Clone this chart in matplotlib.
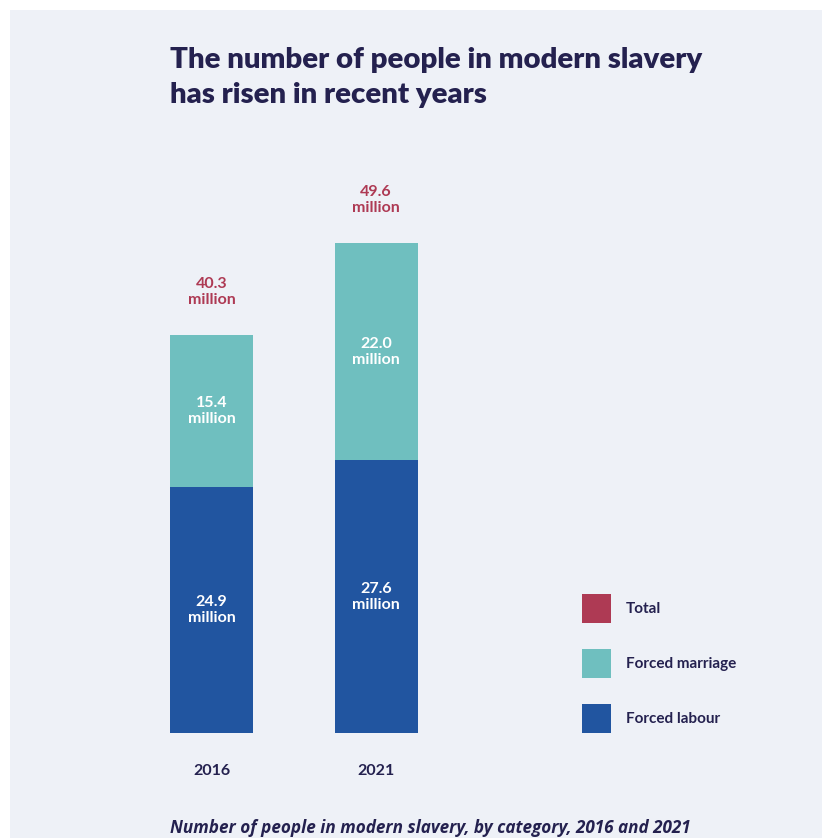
import matplotlib
matplotlib.use('Agg')
import matplotlib.pyplot as plt
from matplotlib.patches import Patch, Rectangle

years = ['2016', '2021']
forced_labour = [24.9, 27.6]
forced_marriage = [15.4, 22.0]
totals = [40.3, 49.6]
legend_labels = ['Total', 'Forced marriage', 'Forced labour']

navy = '#24214f'
c_labour = '#2155a0'
c_marriage = '#6fbfbf'
c_total = '#ae3a54'
bg = '#eef1f7'

fams = ['Lato', 'DejaVu Sans']

W, H = 822, 838
fig = plt.figure(figsize=(W / 100, H / 100), dpi=100, facecolor='white')
fig.patches.append(Rectangle((10 / W, 0), 1, 1 - 10 / H, transform=fig.transFigure,
                             facecolor=bg, edgecolor='none', zorder=-10))

# axes: y=0 at pixel 733, 9.88 px per unit, bar spacing 164.5 px
x0, x1 = -0.6, 3.0
ymax = 60
ax_left = 211.5 - 0.6 * 164.5
ax_w = (x1 - x0) * 164.5
ax_h = ymax * 9.88
ax = fig.add_axes([ax_left / W, (H - 733) / H, ax_w / W, ax_h / H])
ax.set_facecolor('none')
ax.set_xlim(x0, x1)
ax.set_ylim(0, ymax)
for s in ax.spines.values():
    s.set_visible(False)
ax.set_yticks([])

xs = list(range(len(years)))
bw = 83 / 164.5
ax.bar(xs, forced_labour, width=bw, color=c_labour)
ax.bar(xs, forced_marriage, width=bw, bottom=forced_labour, color=c_marriage)

lbl = dict(ha='center', va='center', fontsize=11.5, fontweight='bold', family=fams, linespacing=1.2)
for i in xs:
    ax.text(i, forced_labour[i] / 2, f'{forced_labour[i]:.1f}\nmillion', color='white', **lbl)
    ax.text(i, forced_labour[i] + forced_marriage[i] / 2, f'{forced_marriage[i]:.1f}\nmillion',
            color='white', **lbl)
    ax.annotate(f'{totals[i]:.1f}\nmillion', (i, totals[i]), xytext=(0, 31), textcoords='offset points',
                color=c_total, **lbl)

ax.set_xticks(xs, years)
ax.tick_params(axis='x', length=0, pad=22)
for t in ax.get_xticklabels():
    t.set_fontsize(11.5)
    t.set_color(navy)
    t.set_family(fams)
    t.set_fontweight('bold')

handles = [Patch(facecolor=c, edgecolor='none') for c in [c_total, c_marriage, c_labour]]
fig.legend(handles, legend_labels, loc='upper left', bbox_to_anchor=(582 / W, 1 - 594 / H),
           frameon=False, borderpad=0, borderaxespad=0, handlelength=1.9, handleheight=2.5,
           labelspacing=1.73, handletextpad=0.95,
           prop={'family': fams, 'weight': 'bold', 'size': 11})
for t in fig.legends[0].get_texts():
    t.set_color(navy)

fig.text(170 / W, 1 - 68 / H, 'The number of people in modern slavery', ha='left', va='baseline',
         fontsize=21.2, fontweight='heavy', color=navy, family=fams)
fig.text(170 / W, 1 - 103 / H, 'has risen in recent years', ha='left', va='baseline',
         fontsize=21.2, fontweight='heavy', color=navy, family=fams)

fig.text(170 / W, 1 - 833 / H, 'Number of people in modern slavery, by category, 2016 and 2021',
         ha='left', va='baseline', fontsize=12.3, fontweight='bold', fontstyle='italic',
         color=navy, family=['Open Sans', 'DejaVu Sans'])

fig.savefig('out.png', dpi=100, facecolor='white')
